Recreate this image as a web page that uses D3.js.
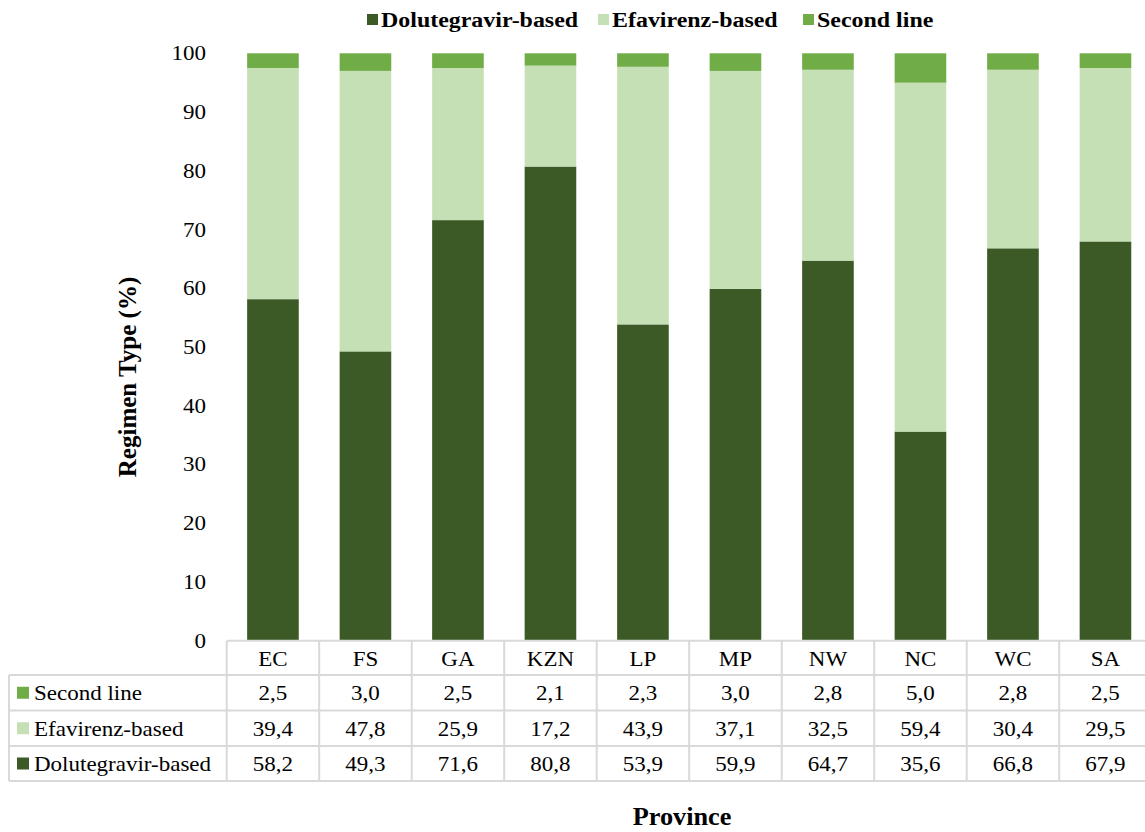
<!DOCTYPE html>
<html><head><meta charset="utf-8">
<script src="https://cdn.jsdelivr.net/npm/d3@7"></script>
<style>body{margin:0;background:#fff}svg{display:block}
svg text{font-family:"Liberation Serif","DejaVu Serif",serif}</style>
</head><body>
<svg id="chart" width="1145" height="832"></svg>
<script>
const provinces = ["EC","FS","GA","KZN","LP","MP","NW","NC","WC","SA"];
const dolutegravir = [58.2,49.3,71.6,80.8,53.9,59.9,64.7,35.6,66.8,67.9];
const efavirenz = [39.4,47.8,25.9,17.2,43.9,37.1,32.5,59.4,30.4,29.5];
const secondLine = [2.5,3.0,2.5,2.1,2.3,3.0,2.8,5.0,2.8,2.5];
const seriesNames = ["Dolutegravir-based","Efavirenz-based","Second line"];
const yTicks = [0,10,20,30,40,50,60,70,80,90,100];
const yTitle = "Regimen Type (%)";
const xTitle = "Province";

const colors = {"Dolutegravir-based":"#3b5a26","Efavirenz-based":"#c5e0b4","Second line":"#70ad47"};
const SX = 1.15;
const gridCol = "#d9d9d9";

const rows = provinces.map((p,i)=>({province:p,"Dolutegravir-based":dolutegravir[i],"Efavirenz-based":efavirenz[i],"Second line":secondLine[i]}));
const stack = d3.stack().keys(seriesNames).offset(d3.stackOffsetExpand)(rows);

const svg = d3.select("#chart");
const x = d3.scaleBand().domain(provinces).range([226.7,1151.7]).paddingInner(0.442).paddingOuter(0.221);
const y = d3.scaleLinear().domain([0,100]).range([640.7,53.3]);
const loc = d3.formatLocale({decimal:",",thousands:" ",grouping:[3],currency:["",""]});
const fmt = loc.format(".1f");

function txt(g, px, py, s, o={}){
  const sx = o.sx ?? SX;
  return g.append("text").attr("transform",`translate(${px},${py}) scale(${sx},1)`)
    .attr("text-anchor",o.anchor||"start")
    .attr("font-size",o.size||20).attr("font-weight",o.weight||"normal")
    .attr("fill","#000").text(s);
}

// bars
svg.append("g").selectAll("g").data(stack).join("g").attr("fill",d=>colors[d.key])
  .selectAll("rect").data(d=>d).join("rect")
  .attr("x",d=>x(d.data.province)).attr("width",x.bandwidth())
  .attr("y",d=>y(d[1]*100)).attr("height",d=>y(d[0]*100)-y(d[1]*100));

// y axis labels
const yg = svg.append("g");
yTicks.forEach(t=>txt(yg,206,y(t)+7,String(t),{anchor:"end"}));

// table
const step = x.step();
const colL = x.range()[0];
const tableLeft = 9, tableRight = x.range()[1];
const rowY = [640.7,675,710.5,746,781];
const tg = svg.append("g");
tg.append("line").attr("x1",colL).attr("x2",tableRight).attr("y1",rowY[0]).attr("y2",rowY[0]);
for(let r=1;r<rowY.length;r++) tg.append("line").attr("x1",tableLeft).attr("x2",tableRight).attr("y1",rowY[r]).attr("y2",rowY[r]);
tg.append("line").attr("x1",tableLeft).attr("x2",tableLeft).attr("y1",rowY[1]).attr("y2",rowY[4]);
provinces.forEach((p,i)=>{
  const xl = colL + i*step;
  tg.append("line").attr("x1",xl).attr("x2",xl).attr("y1",rowY[0]).attr("y2",rowY[4]);
});
tg.append("line").attr("x1",tableRight).attr("x2",tableRight).attr("y1",rowY[0]).attr("y2",rowY[4]);
tg.selectAll("line").attr("stroke",gridCol).attr("stroke-width",2);

provinces.forEach(p=>txt(tg,x(p)+x.bandwidth()/2,rowY[0]+25.5,p,{anchor:"middle"}));
const tableSeries = [["Second line",secondLine],["Efavirenz-based",efavirenz],["Dolutegravir-based",dolutegravir]];
tableSeries.forEach(([name,vals],r)=>{
  const top = rowY[r+1], bot = rowY[r+2], cy = (top+bot)/2;
  tg.append("rect").attr("x",17).attr("y",cy-6).attr("width",12).attr("height",12).attr("fill",colors[name]);
  txt(tg,34,cy+7.5,name);
  vals.forEach((v,i)=>txt(tg,x(provinces[i])+x.bandwidth()/2,cy+7.5,fmt(v),{anchor:"middle"}));
});

// legend
const lg = svg.append("g");
const legX = [367,598,803];
seriesNames.forEach((n,i)=>{
  lg.append("rect").attr("x",legX[i]).attr("y",14).attr("width",11).attr("height",11).attr("fill",colors[n]);
  txt(lg,legX[i]+14,27,n,{weight:"bold",size:21,sx:1.14});
});

// titles
svg.append("text").attr("transform","translate(136,377) rotate(-90)")
  .attr("text-anchor","middle").attr("font-size",25).attr("font-weight","bold").text(yTitle);
txt(svg,682,825,xTitle,{anchor:"middle",weight:"bold",size:25,sx:1.05});
</script>
</body></html>
